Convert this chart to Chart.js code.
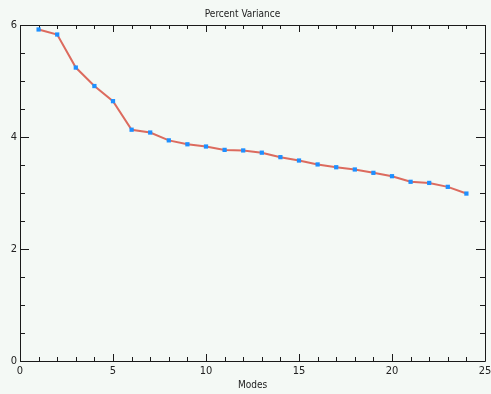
<!DOCTYPE html>
<html>
<head>
<meta charset="utf-8">
<script src="https://cdn.jsdelivr.net/npm/chart.js@4/dist/chart.umd.min.js"></script>
<style>
  html, body { margin: 0; padding: 0; background: #f4f9f5; }
  canvas { display: block; }
</style>
</head>
<body>
<canvas id="varChart" width="491" height="394"></canvas>
<script>
// Werte
var modes = [1, 2, 3, 4, 5, 6, 7, 8, 9, 10, 11, 12, 13, 14, 15, 16, 17, 18, 19, 20, 21, 22, 23, 24];
var variance = [5.92, 5.83, 5.24, 4.91, 4.64, 4.13, 4.08, 3.94, 3.87, 3.83, 3.77, 3.76,
                3.72, 3.64, 3.58, 3.51, 3.46, 3.42, 3.36, 3.30, 3.20, 3.18, 3.11, 2.99];
var xTicks = [0, 5, 10, 15, 20, 25];
var yTicks = [0, 2, 4, 6];
var xMinorStep = 1;
var yMinorStep = 0.5;

var fontFamily = "'DejaVu Sans Condensed', 'Liberation Sans Narrow', sans-serif";
var textColor = '#222222';

// Rahmen und nach innen zeigende Ticks auf allen vier Seiten
var framePlugin = {
    id: 'frame',
    beforeDatasetsDraw: function(chart) {
        var ctx = chart.ctx;
        var a = chart.chartArea;
        var xs = chart.scales.x;
        var ys = chart.scales.y;
        ctx.save();
        ctx.strokeStyle = '#1a1a1a';
        ctx.lineWidth = 1;
        ctx.beginPath();
        ctx.rect(Math.round(a.left) + 0.5, Math.round(a.top) + 0.5,
                 Math.round(a.right - a.left), Math.round(a.bottom - a.top));
        ctx.stroke();

        ctx.beginPath();
        for (var v = xs.min; v <= xs.max + 1e-9; v += xMinorStep) {
            var px = Math.round(xs.getPixelForValue(v)) + 0.5;
            var len = xTicks.indexOf(v) >= 0 ? 7 : 4;
            ctx.moveTo(px, a.bottom); ctx.lineTo(px, a.bottom - len);
            ctx.moveTo(px, a.top); ctx.lineTo(px, a.top + len);
        }
        for (var w = ys.min; w <= ys.max + 1e-9; w += yMinorStep) {
            var py = Math.round(ys.getPixelForValue(w)) + 0.5;
            var ylen = yTicks.indexOf(w) >= 0 ? 9 : 5;
            ctx.moveTo(a.left, py); ctx.lineTo(a.left + ylen, py);
            ctx.moveTo(a.right, py); ctx.lineTo(a.right - ylen, py);
        }
        ctx.stroke();
        ctx.restore();
    }
};

var varChart = new Chart(document.getElementById('varChart').getContext('2d'), {
    type: 'line',
    data: {
        datasets: [{
            data: modes.map(function(m, i) { return { x: m, y: variance[i] }; }),
            borderColor: '#dc6b5e',
            borderWidth: 2,
            tension: 0,
            pointStyle: 'rect',
            pointRadius: 3,
            pointBorderWidth: 0,
            pointBackgroundColor: '#1e90ff'
        }]
    },
    options: {
        responsive: false,
        animation: false,
        layout: { padding: { left: 0, right: 6, top: 0, bottom: 0 } },
        plugins: {
            legend: { display: false },
            tooltip: { enabled: false },
            title: {
                display: true,
                text: 'Percent Variance',
                color: textColor,
                font: { family: fontFamily, size: 10, weight: 'normal', lineHeight: 1.2 },
                padding: { top: 8, bottom: 5 }
            }
        },
        scales: {
            x: {
                type: 'linear',
                min: 0,
                max: 25,
                grid: { display: false, drawTicks: false },
                border: { display: false },
                afterBuildTicks: function(scale) {
                    scale.ticks = xTicks.map(function(v) { return { value: v }; });
                },
                ticks: {
                    color: textColor,
                    padding: 4,
                    maxRotation: 0,
                    autoSkip: false,
                    font: { family: fontFamily, size: 11 }
                },
                title: {
                    display: true,
                    text: 'Modes',
                    color: textColor,
                    font: { family: fontFamily, size: 10, lineHeight: 1.2 },
                    padding: { top: 0, bottom: 3 }
                },
                afterFit: function(scale) {
                    scale.height = 33;
                    scale.paddingLeft = 0;
                    scale.paddingRight = 0;
                }
            },
            y: {
                min: 0,
                max: 6,
                grid: { display: false, drawTicks: false },
                border: { display: false },
                afterBuildTicks: function(scale) {
                    scale.ticks = yTicks.map(function(v) { return { value: v }; });
                },
                ticks: {
                    color: textColor,
                    padding: 3,
                    autoSkip: false,
                    font: { family: fontFamily, size: 11 }
                },
                afterFit: function(scale) {
                    scale.width = 20;
                    scale.paddingTop = 0;
                    scale.paddingBottom = 0;
                }
            }
        }
    },
    plugins: [framePlugin]
});
</script>
</body>
</html>
